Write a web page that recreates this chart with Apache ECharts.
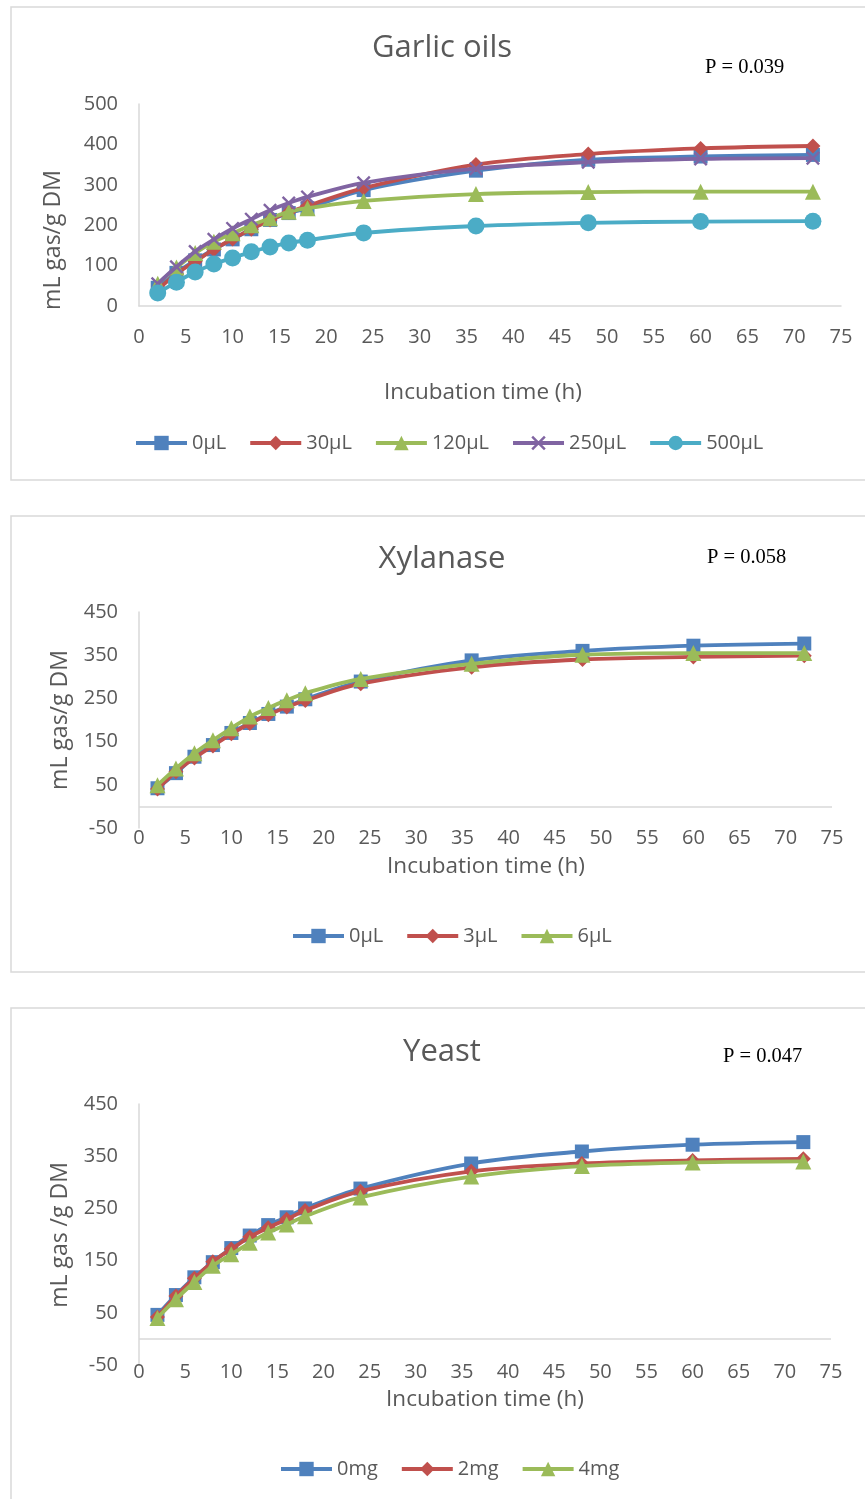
<!DOCTYPE html>
<html>
<head>
<meta charset="utf-8">
<script src="https://cdn.jsdelivr.net/npm/echarts@6/dist/echarts.min.js"></script>
<style>
html,body{margin:0;padding:0;background:#fff;}
#c{width:865px;height:1499px;}
</style>
</head>
<body>
<div id="c"></div>
<script>
// ---- data ----
var hours = [2, 4, 6, 8, 10, 12, 14, 16, 18, 24, 36, 48, 60, 72];

var garlicNames = ['0µL', '30µL', '120µL', '250µL', '500µL'];
var garlic0   = [45, 82, 113, 140, 165, 190, 213, 230, 242, 287, 335, 362, 370, 374];
var garlic30  = [40, 80, 110, 140, 166, 190, 213, 232, 248, 292, 350, 376, 390, 396];
var garlic120 = [55, 95, 131, 159, 180, 200, 217, 233, 242, 260, 277, 282, 283, 283];
var garlic250 = [55, 97, 135, 165, 192, 215, 237, 255, 270, 305, 340, 356, 364, 366];
var garlic500 = [32, 59, 84, 104, 119, 134, 146, 156, 163, 181, 198, 206, 209, 210];

var xylNames = ['0µL', '3µL', '6µL'];
var xyl0 = [42, 77, 115, 142, 170, 193, 214, 231, 248, 289, 338, 360, 372, 377];
var xyl3 = [40, 80, 112, 140, 168, 192, 212, 230, 245, 284, 322, 340, 346, 349];
var xyl6 = [49, 88, 123, 153, 181, 208, 228, 246, 262, 295, 330, 351, 355, 355];

var yeastNames = ['0mg', '2mg', '4mg'];
var yeast0 = [46, 84, 118, 147, 174, 198, 218, 233, 250, 288, 336, 359, 372, 377];
var yeast2 = [42, 82, 116, 148, 172, 195, 213, 229, 246, 283, 321, 336, 342, 345];
var yeast4 = [40, 76, 109, 140, 162, 184, 204, 219, 235, 271, 311, 331, 338, 340];

var xTicks = {min: 0, max: 75, interval: 5};
var titles = ['Garlic oils', 'Xylanase', 'Yeast'];
var pTexts = ['P = 0.039', 'P = 0.058', 'P = 0.047'];
var yTitles = ['mL gas/g DM', 'mL gas/g DM', 'mL gas /g DM'];
var xTitle = 'Incubation time (h)';

// ---- styles ----
var FONT = '"Open Sans", "Noto Sans", sans-serif';
var TXT = '#595959';
var AX = '#d9d9d9';
var colors = ['#4F81BD', '#C0504D', '#9BBB59', '#8064A2', '#4BACC6'];
var symbols = ['rect', 'diamond', 'triangle',
  'path://M0,1.2 L1.2,0 L5,3.8 L8.8,0 L10,1.2 L6.2,5 L10,8.8 L8.8,10 L5,6.2 L1.2,10 L0,8.8 L3.8,5 Z',
  'circle'];
var symSizes = [14, 15, 16, 14, 17];

function pairs(ys) { return hours.map(function (h, i) { return [h, ys[i]]; }); }

var grids = [
  {left: 139, right: 24, top: 104, height: 202},
  {left: 139, right: 33, top: 612, height: 216},
  {left: 139, right: 34, top: 1104, height: 261}
];
var yRanges = [
  {min: 0, max: 500, interval: 100},
  {min: -50, max: 450, interval: 100},
  {min: -50, max: 450, interval: 100}
];
var labelMargins = [21, 0, -3];

var xAxes = [], yAxes = [];
for (var g = 0; g < 3; g++) {
  xAxes.push({
    type: 'value', gridIndex: g, min: xTicks.min, max: xTicks.max, interval: xTicks.interval,
    axisLine: {show: g === 0, onZero: false, lineStyle: {color: AX, width: 1.5}},
    axisTick: {show: false}, splitLine: {show: false},
    axisLabel: {color: TXT, fontSize: 20, fontFamily: FONT, margin: labelMargins[g]}
  });
  yAxes.push({
    type: 'value', gridIndex: g, min: yRanges[g].min, max: yRanges[g].max, interval: yRanges[g].interval,
    axisLine: {show: true, lineStyle: {color: AX, width: 1.5}},
    axisTick: {show: false}, splitLine: {show: false},
    axisLabel: {color: TXT, fontSize: 20, fontFamily: FONT, margin: 21}
  });
}

var series = [];
function addSeries(name, ys, idx, g) {
  var s = {
    name: name, type: 'line', xAxisIndex: g, yAxisIndex: g,
    data: pairs(ys), smooth: 0.35,
    symbol: symbols[idx], symbolSize: symSizes[idx], showSymbol: true,
    lineStyle: {color: colors[idx], width: 3.8},
    itemStyle: {color: colors[idx]},
    z: 2 + idx
  };
  series.push(s);
  return s;
}
var garlicSets = [garlic0, garlic30, garlic120, garlic250, garlic500];
garlicSets.forEach(function (d, i) { addSeries(garlicNames[i], d, i, 0); });
var xylSets = [xyl0, xyl3, xyl6];
var zeroLine = {
  silent: true, symbol: 'none', label: {show: false},
  lineStyle: {color: AX, width: 1.5, type: 'solid'},
  data: [{yAxis: 0}], animation: false
};
xylSets.forEach(function (d, i) {
  var s = addSeries(xylNames[i], d, i, 1);
  if (i === 0) s.markLine = zeroLine;
});
var yeastSets = [yeast0, yeast2, yeast4];
yeastSets.forEach(function (d, i) {
  var s = addSeries(yeastNames[i], d, i, 2);
  if (i === 0) s.markLine = JSON.parse(JSON.stringify(zeroLine));
});

var legendCommon = {
  orient: 'horizontal', itemWidth: 51, itemHeight: 18, itemGap: 22, padding: 0,
  lineStyle: {width: 4},
  textStyle: {color: TXT, fontSize: 20, fontFamily: FONT},
  selectedMode: false
};
var legends = [
  Object.assign({}, legendCommon, {left: 134, top: 433, data: garlicNames}),
  Object.assign({}, legendCommon, {left: 291, top: 926, data: xylNames}),
  Object.assign({}, legendCommon, {left: 279, top: 1459, data: yeastNames})
];

var graphics = [];
var boxes = [{y: 7, h: 473}, {y: 516, h: 456}, {y: 1008, h: 520}];
boxes.forEach(function (b) {
  graphics.push({type: 'rect', shape: {x: 11, y: b.y, width: 870, height: b.h},
    style: {fill: null, stroke: AX, lineWidth: 1.5}, silent: true, z: -1});
});
var titleY = [48, 559, 1052];
var pPos = [[705, 68], [707, 558], [723, 1057]];
var yTitlePos = [[53, 240], [60, 720], [60, 1235]];
var xTitlePos = [[483, 393], [486, 867], [485, 1400]];
for (var k = 0; k < 3; k++) {
  graphics.push({type: 'text', x: 442, y: titleY[k],
    style: {text: titles[k], fill: TXT, font: '31px ' + FONT, textAlign: 'center', textVerticalAlign: 'middle'}});
  graphics.push({type: 'text', x: pPos[k][0], y: pPos[k][1],
    style: {text: pTexts[k], fill: '#000', font: '20.5px "Liberation Serif", "Times New Roman", serif', textAlign: 'left', textVerticalAlign: 'middle'}});
  graphics.push({type: 'text', x: yTitlePos[k][0], y: yTitlePos[k][1], rotation: Math.PI / 2,
    style: {text: yTitles[k], fill: TXT, font: '23px ' + FONT, textAlign: 'center', textVerticalAlign: 'middle'}});
  graphics.push({type: 'text', x: xTitlePos[k][0], y: xTitlePos[k][1],
    style: {text: xTitle, fill: TXT, font: '22.5px ' + FONT, textAlign: 'center', textVerticalAlign: 'middle'}});
}

var chart = echarts.init(document.getElementById('c'), null, {renderer: 'canvas'});
chart.setOption({
  animation: false,
  backgroundColor: '#fff',
  grid: grids,
  xAxis: xAxes,
  yAxis: yAxes,
  legend: legends,
  series: series,
  graphic: graphics
});
</script>
</body>
</html>
